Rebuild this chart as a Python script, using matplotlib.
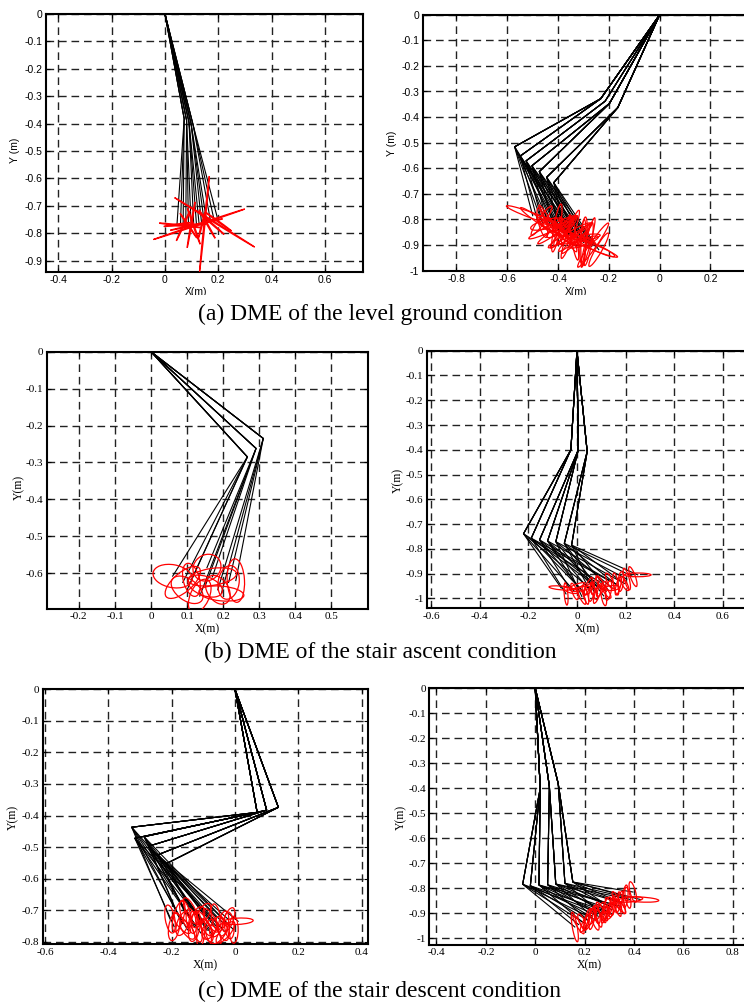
import matplotlib
matplotlib.use("Agg")
import matplotlib.pyplot as plt
from matplotlib.patches import Ellipse
from matplotlib.transforms import Bbox, TransformedBbox

# ======================= DATA =======================
hip_x, hip_y = 0.0, 0.0

# ---- (a) level ground, left panel (2-link, ellipses at ankle) ----
a1_knee_x = [0.072, 0.081, 0.090, 0.098, 0.106]
a1_knee_y = [-0.382, -0.388, -0.395, -0.401, -0.407]
a1_ankle_x = [0.045, 0.058, 0.068, 0.078, 0.088, 0.098, 0.108, 0.118, 0.128, 0.138, 0.148, 0.158, 0.172, 0.186, 0.200]
a1_ankle_y = [-0.768, -0.771, -0.773, -0.770, -0.772, -0.769, -0.774, -0.768, -0.767, -0.770, -0.765, -0.766, -0.762, -0.760, -0.757]
a1_ankle_parent = [0, 0, 0, 1, 1, 1, 2, 2, 2, 3, 3, 3, 4, 4, 4]
a1_ell_w = [0.10, 0.16, 0.12, 0.15, 0.11, 0.17, 0.14, 0.20, 0.36, 0.10, 0.35, 0.12, 0.13, 0.35, 0.12]
a1_ell_h = [0.004, 0.004, 0.004, 0.004, 0.004, 0.004, 0.004, 0.004, 0.004, 0.004, 0.004, 0.004, 0.004, 0.004, 0.004]
a1_ell_ang = [8, -6, 65, 2, -55, 80, -70, 12, 18, 75, 84, -60, -40, -31, -35]

# ---- (a) level ground, right panel (3-link, ellipses at toe) ----
a2_knee_x = [-0.232, -0.215, -0.198, -0.165]
a2_knee_y = [-0.328, -0.338, -0.347, -0.363]
a2_ankle_x = [-0.571, -0.549, -0.526, -0.503, -0.474, -0.445, -0.417]
a2_ankle_y = [-0.516, -0.552, -0.571, -0.590, -0.613, -0.635, -0.656]
a2_ankle_parent = [0, 0, 1, 2, 2, 3, 3]
a2_toe_x = [-0.500, -0.465, -0.430, -0.392, -0.352,
            -0.482, -0.445, -0.405, -0.366, -0.325,
            -0.462, -0.420, -0.383, -0.340, -0.300,
            -0.440, -0.402, -0.360, -0.318, -0.282,
            -0.418, -0.378, -0.338, -0.298, -0.262,
            -0.396, -0.356, -0.318, -0.280, -0.250,
            -0.376, -0.336, -0.300, -0.268, -0.240]
a2_toe_y = [-0.785, -0.805, -0.822, -0.838, -0.858,
            -0.800, -0.818, -0.833, -0.852, -0.872,
            -0.812, -0.830, -0.848, -0.866, -0.880,
            -0.822, -0.840, -0.858, -0.876, -0.890,
            -0.832, -0.850, -0.870, -0.888, -0.900,
            -0.844, -0.862, -0.882, -0.896, -0.910,
            -0.852, -0.872, -0.890, -0.905, -0.918]
a2_toe_parent = [0, 0, 0, 0, 0, 1, 1, 1, 1, 1, 2, 2, 2, 2, 2, 3, 3, 3, 3, 3,
                 4, 4, 4, 4, 4, 5, 5, 5, 5, 5, 6, 6, 6, 6, 6]
a2_ell_w = [0.22, 0.14, 0.18, 0.12, 0.20, 0.16, 0.13, 0.19, 0.15, 0.17, 0.12, 0.21, 0.13, 0.16, 0.18, 0.11, 0.19, 0.15,
            0.17, 0.20, 0.13, 0.16, 0.18, 0.12, 0.21, 0.15, 0.19, 0.13, 0.17, 0.16, 0.20, 0.16, 0.18, 0.22, 0.15]
a2_ell_h = [0.022, 0.025, 0.020, 0.030, 0.025, 0.020, 0.035, 0.025, 0.025, 0.022, 0.030, 0.025, 0.025, 0.020, 0.025,
            0.035, 0.022, 0.025, 0.025, 0.020, 0.030, 0.025, 0.022, 0.025, 0.025, 0.025, 0.025, 0.035, 0.022, 0.025,
            0.022, 0.025, 0.020, 0.022, 0.025]
a2_ell_ang = [-20, 55, -60, 30, 70, -35, 15, 80, -50, 45, -75, 25, 60, -15, 85, -40, 35, -65, 10, 75, -30, 50, -80, 20,
              55, -45, 30, -10, 80, -25, -20, 40, 88, -22, 60]

# ---- (b) stair ascent, left panel (2-link) ----
b1_knee_x = [0.311, 0.291, 0.267]
b1_knee_y = [-0.235, -0.262, -0.285]
b1_ankle_x = [0.060, 0.088, 0.100, 0.112, 0.135, 0.155, 0.150, 0.170, 0.185, 0.195, 0.215, 0.235]
b1_ankle_y = [-0.608, -0.625, -0.645, -0.618, -0.662, -0.585, -0.635, -0.610, -0.645, -0.655, -0.625, -0.620]
b1_ankle_parent = [2, 2, 2, 2, 1, 1, 1, 1, 0, 0, 0, 0]
b1_ell_w = [0.110, 0.120, 0.100, 0.045, 0.052, 0.080, 0.100, 0.135, 0.058, 0.125, 0.058, 0.048]
b1_ell_h = [0.062, 0.052, 0.058, 0.092, 0.098, 0.070, 0.052, 0.046, 0.086, 0.040, 0.092, 0.118]
b1_ell_ang = [-10, 40, -35, 15, -25, 30, -20, 8, 35, -5, -10, 3]

# ---- (b) stair ascent, right panel (3-link) ----
b2_knee_x = [-0.025, 0.005, 0.042]
b2_knee_y = [-0.400, -0.402, -0.407]
b2_ankle_x = [-0.220, -0.188, -0.154, -0.121, -0.087, -0.052, -0.022]
b2_ankle_y = [-0.739, -0.757, -0.764, -0.768, -0.771, -0.778, -0.785]
b2_ankle_parent = [0, 0, 1, 1, 1, 2, 2]
b2_toe_x = [-0.065, -0.010, 0.045, 0.095,
            -0.045, 0.015, 0.075, 0.135,
            -0.025, 0.035, 0.100, 0.160,
            0.000, 0.060, 0.120, 0.180,
            0.020, 0.085, 0.145, 0.205,
            0.050, 0.110, 0.170, 0.230,
            0.070, 0.130, 0.195, 0.250]
b2_toe_y = [-0.958, -0.972, -0.952, -0.935,
            -0.982, -0.962, -0.948, -0.930,
            -0.968, -0.985, -0.962, -0.942,
            -0.950, -0.975, -0.972, -0.932,
            -0.992, -0.980, -0.958, -0.922,
            -0.960, -0.990, -0.950, -0.912,
            -0.972, -0.968, -0.940, -0.905]
b2_toe_parent = [0, 0, 0, 0, 1, 1, 1, 1, 2, 2, 2, 2, 3, 3, 3, 3, 4, 4, 4, 4, 5, 5, 5, 5, 6, 6, 6, 6]
b2_ell_w = [0.100, 0.020, 0.018, 0.020, 0.015, 0.080, 0.020, 0.022, 0.060, 0.018, 0.020, 0.020, 0.070, 0.020,
            0.018, 0.022, 0.018, 0.020, 0.060, 0.020, 0.025, 0.020, 0.018, 0.020, 0.020, 0.022, 0.020, 0.110]
b2_ell_h = [0.015, 0.070, 0.080, 0.060, 0.090, 0.015, 0.075, 0.070, 0.020, 0.080, 0.070, 0.090, 0.015, 0.075,
            0.065, 0.080, 0.070, 0.085, 0.020, 0.090, 0.060, 0.080, 0.075, 0.085, 0.070, 0.080, 0.065, 0.015]
b2_ell_ang = [-5, 20, -25, 30, 5, 10, -20, 25, -15, 15, -30, 10, 20, -10, 35, -5, 25, -20, 5, 15, -35, 10, -15, 20,
              20, -10, 30, 0]

# ---- (c) stair descent, left panel (3-link) ----
c1_knee_x = [0.070, 0.100, 0.137]
c1_knee_y = [-0.390, -0.383, -0.374]
c1_ankle_x = [-0.326, -0.316, -0.287, -0.272, -0.245, -0.216]
c1_ankle_y = [-0.437, -0.472, -0.467, -0.497, -0.525, -0.552]
c1_ankle_parent = [0, 0, 1, 1, 2, 2]
c1_toe_x = [-0.205, -0.165, -0.122, -0.080, -0.040,
            -0.192, -0.150, -0.108, -0.068, -0.030,
            -0.178, -0.138, -0.098, -0.058, -0.018,
            -0.168, -0.128, -0.088, -0.048, -0.004,
            -0.156, -0.116, -0.076, -0.036, 0.010,
            -0.140, -0.100, -0.060, -0.020]
c1_toe_y = [-0.728, -0.742, -0.752, -0.760, -0.758,
            -0.752, -0.762, -0.772, -0.782, -0.770,
            -0.720, -0.734, -0.742, -0.752, -0.748,
            -0.742, -0.752, -0.764, -0.772, -0.762,
            -0.712, -0.722, -0.732, -0.742, -0.735,
            -0.702, -0.712, -0.722, -0.730]
c1_toe_parent = [0, 0, 0, 0, 0, 1, 1, 1, 1, 1, 2, 2, 2, 2, 2, 3, 3, 3, 3, 3, 4, 4, 4, 4, 4, 5, 5, 5, 5]
c1_ell_w = [0.030, 0.035, 0.028, 0.040, 0.030, 0.034, 0.030, 0.025, 0.040, 0.030, 0.032, 0.030, 0.026, 0.036, 0.030,
            0.028, 0.035, 0.030, 0.033, 0.028, 0.030, 0.036, 0.028, 0.030, 0.095, 0.030, 0.034, 0.028, 0.030]
c1_ell_h = [0.090, 0.080, 0.100, 0.070, 0.080, 0.090, 0.070, 0.090, 0.075, 0.085, 0.100, 0.080, 0.090, 0.070, 0.085,
            0.080, 0.095, 0.075, 0.080, 0.085, 0.090, 0.070, 0.085, 0.080, 0.020, 0.090, 0.075, 0.085, 0.080]
c1_ell_ang = [10, -20, 15, -30, 20, -10, 35, -5, 25, -40, -15, 10, 30, -25, 5, 40, -10, 20, -35, 0, 15, -20, 30, -10,
              3, 25, -30, 10, -20]

# ---- (c) stair descent, right panel (3-link) ----
c2_knee_x = [0.020, 0.057, 0.093]
c2_knee_y = [-0.400, -0.392, -0.382]
c2_ankle_x = [-0.051, -0.020, 0.015, 0.050, 0.083, 0.120, 0.152]
c2_ankle_y = [-0.784, -0.790, -0.787, -0.786, -0.783, -0.780, -0.775]
c2_ankle_parent = [0, 0, 0, 1, 1, 2, 2]
c2_toe_x = [0.160, 0.200, 0.240, 0.280,
            0.175, 0.215, 0.255, 0.295,
            0.190, 0.230, 0.270, 0.310, 0.345,
            0.210, 0.250, 0.290, 0.330,
            0.230, 0.270, 0.310, 0.350, 0.385,
            0.260, 0.300, 0.340, 0.375,
            0.290, 0.330, 0.365, 0.395, 0.425]
c2_toe_y = [-0.955, -0.940, -0.925, -0.905,
            -0.945, -0.930, -0.912, -0.895,
            -0.935, -0.918, -0.900, -0.885, -0.872,
            -0.925, -0.905, -0.890, -0.870,
            -0.912, -0.893, -0.875, -0.858, -0.845,
            -0.892, -0.872, -0.855, -0.838,
            -0.868, -0.850, -0.832, -0.815, -0.845]
c2_toe_parent = [0, 0, 0, 0, 1, 1, 1, 1, 2, 2, 2, 2, 2, 3, 3, 3, 3, 4, 4, 4, 4, 4, 5, 5, 5, 5, 6, 6, 6, 6, 6]
c2_ell_w = [0.020, 0.018, 0.022, 0.020, 0.018, 0.025, 0.020, 0.018, 0.022, 0.020, 0.018, 0.025, 0.020, 0.018, 0.022,
            0.020, 0.018, 0.025, 0.020, 0.020, 0.018, 0.100, 0.020, 0.022, 0.018, 0.020, 0.022, 0.020, 0.020, 0.022,
            0.150]
c2_ell_h = [0.120, 0.080, 0.090, 0.070, 0.085, 0.075, 0.090, 0.080, 0.070, 0.095, 0.080, 0.085, 0.070, 0.090, 0.075,
            0.080, 0.090, 0.070, 0.085, 0.080, 0.090, 0.020, 0.080, 0.075, 0.090, 0.085, 0.070, 0.080, 0.090, 0.085,
            0.020]
c2_ell_ang = [10, -25, 20, -15, 30, -20, 15, -30, 25, -10, 20, -25, 35, -15, 10, -30, 20, -20, 30, -10, 15, 5, -25,
              20, -15, 10, -20, 25, -5, 15, -3]

# tick values per panel
a1_xticks = [-0.4, -0.2, 0, 0.2, 0.4, 0.6]
a1_yticks = [-0.9, -0.8, -0.7, -0.6, -0.5, -0.4, -0.3, -0.2, -0.1, 0]
a2_xticks = [-0.8, -0.6, -0.4, -0.2, 0, 0.2]
a2_yticks = [-1, -0.9, -0.8, -0.7, -0.6, -0.5, -0.4, -0.3, -0.2, -0.1, 0]
b1_xticks = [-0.2, -0.1, 0, 0.1, 0.2, 0.3, 0.4, 0.5]
b1_yticks = [-0.6, -0.5, -0.4, -0.3, -0.2, -0.1, 0]
b2_xticks = [-0.6, -0.4, -0.2, 0, 0.2, 0.4, 0.6]
b2_yticks = [-1, -0.9, -0.8, -0.7, -0.6, -0.5, -0.4, -0.3, -0.2, -0.1, 0]
c1_xticks = [-0.6, -0.4, -0.2, 0, 0.2, 0.4]
c1_yticks = [-0.8, -0.7, -0.6, -0.5, -0.4, -0.3, -0.2, -0.1, 0]
c2_xticks = [-0.4, -0.2, 0, 0.2, 0.4, 0.6, 0.8]
c2_yticks = [-1, -0.9, -0.8, -0.7, -0.6, -0.5, -0.4, -0.3, -0.2, -0.1, 0]

captions = ["(a) DME of the level ground condition",
            "(b) DME of the stair ascent condition",
            "(c) DME of the stair descent condition"]

# ======================= FIGURE =======================
W, H = 744, 1005
fig = plt.figure(figsize=(W / 100, H / 100), dpi=100)
SANS = ["Liberation Sans", "DejaVu Sans"]
SERIF = ["Liberation Serif", "DejaVu Serif"]


def px_axes(left, top, right, bottom):
    return fig.add_axes([left / W, 1 - bottom / H, (right - left) / W, (bottom - top) / H])


def fmt(v):
    s = f"{v:g}"
    return "0" if s in ("0", "-0") else s


def style_axes(ax, xlim, ylim, xt, yt, fam, fs):
    ax.set_xlim(*xlim)
    ax.set_ylim(*ylim)
    ax.set_xticks(xt)
    ax.set_yticks(yt)
    ax.set_xticklabels([fmt(v) for v in xt], family=fam, fontsize=fs)
    ax.set_yticklabels([fmt(v) for v in yt], family=fam, fontsize=fs)
    ax.tick_params(direction="in", length=3, width=0.8, top=True, right=True, pad=2.5)
    ax.grid(True, color="#222222", linewidth=1.0, linestyle=(0, (5.5, 3.5)))
    ax.set_axisbelow(True)
    for sp in ax.spines.values():
        sp.set_linewidth(1.5)


def draw_chain(ax, kx, ky, ax_, ay_, apar, tx=None, ty=None, tpar=None, ew=None, eh=None, ea=None):
    if tx is None:
        ends_x, ends_y = ax_, ay_
        for i in range(len(ax_)):
            k = apar[i]
            ax.plot([hip_x, kx[k], ax_[i]], [hip_y, ky[k], ay_[i]], color="k", lw=0.8, zorder=3)
    else:
        ends_x, ends_y = tx, ty
        for j in range(len(tx)):
            a = tpar[j]
            k = apar[a]
            ax.plot([hip_x, kx[k], ax_[a], tx[j]], [hip_y, ky[k], ay_[a], ty[j]], color="k", lw=0.8, zorder=3)
    for i in range(len(ends_x)):
        ax.add_patch(Ellipse((ends_x[i], ends_y[i]), width=ew[i], height=eh[i], angle=ea[i],
                             fill=False, edgecolor="red", lw=0.9, zorder=4))


# --- (a) left
ax = px_axes(45.7, 14, 362.7, 271.7)
style_axes(ax, (-0.447, 0.741), (-0.94, 0), a1_xticks, a1_yticks, SANS, 7.5)
draw_chain(ax, a1_knee_x, a1_knee_y, a1_ankle_x, a1_ankle_y, a1_ankle_parent,
           ew=a1_ell_w, eh=a1_ell_h, ea=a1_ell_ang)

# --- (a) right
ax = px_axes(422.7, 14.7, 761.3, 270.7)
style_axes(ax, (-0.933, 0.4), (-1, 0), a2_xticks, a2_yticks, SANS, 7.5)
draw_chain(ax, a2_knee_x, a2_knee_y, a2_ankle_x, a2_ankle_y, a2_ankle_parent,
           a2_toe_x, a2_toe_y, a2_toe_parent, a2_ell_w, a2_ell_h, a2_ell_ang)

# --- (b) left
ax = px_axes(46.7, 351.7, 368.3, 609)
style_axes(ax, (-0.289, 0.602), (-0.697, 0), b1_xticks, b1_yticks, SERIF, 8)
draw_chain(ax, b1_knee_x, b1_knee_y, b1_ankle_x, b1_ankle_y, b1_ankle_parent,
           ew=b1_ell_w, eh=b1_ell_h, ea=b1_ell_ang)

# --- (b) right
ax = px_axes(427, 350.7, 771.4, 608.3)
style_axes(ax, (-0.617, 0.8), (-1.04, 0), b2_xticks, b2_yticks, SERIF, 8)
draw_chain(ax, b2_knee_x, b2_knee_y, b2_ankle_x, b2_ankle_y, b2_ankle_parent,
           b2_toe_x, b2_toe_y, b2_toe_parent, b2_ell_w, b2_ell_h, b2_ell_ang)

# --- (c) left
ax = px_axes(42.7, 689.3, 367.7, 944.3)
style_axes(ax, (-0.607, 0.419), (-0.808, 0), c1_xticks, c1_yticks, SERIF, 8)
draw_chain(ax, c1_knee_x, c1_knee_y, c1_ankle_x, c1_ankle_y, c1_ankle_parent,
           c1_toe_x, c1_toe_y, c1_toe_parent, c1_ell_w, c1_ell_h, c1_ell_ang)

# --- (c) right
ax = px_axes(429.3, 688.3, 757.6, 945)
style_axes(ax, (-0.429, 0.9), (-1.027, 0), c2_xticks, c2_yticks, SERIF, 8)
draw_chain(ax, c2_knee_x, c2_knee_y, c2_ankle_x, c2_ankle_y, c2_ankle_parent,
           c2_toe_x, c2_toe_y, c2_toe_parent, c2_ell_w, c2_ell_h, c2_ell_ang)


def ftext(x, y, s, **kw):
    return fig.text(x / W, 1 - y / H, s, ha="center", va="center", **kw)


# axis labels (row (a) x-labels are cut by the caption strip in the original)
clip_box = TransformedBbox(Bbox.from_extents(0, 1 - 295 / H, 1, 1), fig.transFigure)
for xx in (196, 576):
    t = ftext(xx, 292, "X(m)", family=SANS, fontsize=7.5)
    t.set_clip_box(clip_box)
    t.set_clip_on(True)
ftext(15, 150, "Y (m)", family=SANS, fontsize=7.5, rotation=90)
ftext(392, 143, "Y (m)", family=SANS, fontsize=7.5, rotation=90)
ftext(207, 629, "X(m)", family=SERIF, fontsize=8.5)
ftext(19, 487, "Y(m)", family=SERIF, fontsize=8.5, rotation=90)
ftext(587, 629, "X(m)", family=SERIF, fontsize=8.5)
ftext(398, 480, "Y(m)", family=SERIF, fontsize=8.5, rotation=90)
ftext(205, 965, "X(m)", family=SERIF, fontsize=8.5)
ftext(13, 817, "Y(m)", family=SERIF, fontsize=8.5, rotation=90)
ftext(589, 965, "X(m)", family=SERIF, fontsize=8.5)
ftext(401, 817, "Y(m)", family=SERIF, fontsize=8.5, rotation=90)

# captions
ftext(380, 314, captions[0], family=SERIF, fontsize=17)
ftext(380, 652, captions[1], family=SERIF, fontsize=17)
ftext(380, 991, captions[2], family=SERIF, fontsize=17)

fig.savefig("out.png", dpi=100)
